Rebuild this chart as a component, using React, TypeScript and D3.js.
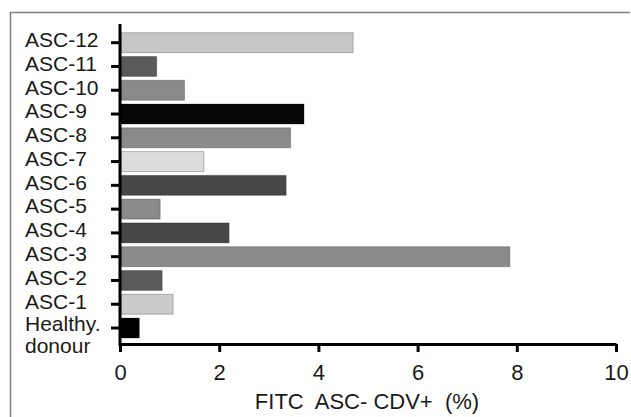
import React, { useRef, useEffect } from "react";
import { select, scaleBand, scaleLinear, axisBottom, axisLeft } from "d3";

// categories top to bottom, as in the figure
const categories = [
  "ASC-12", "ASC-11", "ASC-10", "ASC-9", "ASC-8", "ASC-7", "ASC-6",
  "ASC-5", "ASC-4", "ASC-3", "ASC-2", "ASC-1", "Healthy donour",
];
const values = [4.7, 0.74, 1.3, 3.71, 3.44, 1.69, 3.35, 0.81, 2.2, 7.86, 0.85, 1.07, 0.39];
const barColors = [
  "#c6c6c6", "#5a5a5a", "#8a8a8a", "#060606", "#8a8a8a", "#dcdcdc", "#474747",
  "#8a8a8a", "#474747", "#8a8a8a", "#5a5a5a", "#cbcbcb", "#000000",
];
const xTicks = [0, 2, 4, 6, 8, 10];
const xTitle = "FITC  ASC- CDV+  (%)";

const W = 631;
const H = 417;
const FONT = "'Liberation Sans', Arial, sans-serif";

function BarChart() {
  const svgRef = useRef(null);

  useEffect(() => {
    const svg = select(svgRef.current);
    svg.selectAll("*").remove();

    const data = categories.map((c, i) => ({ name: c, value: values[i], color: barColors[i] }));

    const x = scaleLinear().domain([0, 10]).range([120, 616]);
    const y = scaleBand()
      .domain(categories)
      .range([30.8, 339.9])
      .paddingInner(0.16)
      .paddingOuter(0.08);

    // frame (top + left only)
    svg.append("path")
      .attr("d", `M10.5,417 V12.5 H630`)
      .attr("fill", "none")
      .attr("stroke", "#808080")
      .attr("stroke-width", 1.5);

    // bars
    svg.selectAll(".bar")
      .data(data)
      .join("rect")
      .attr("class", "bar")
      .attr("x", x(0) + 1)
      .attr("y", d => y(d.name))
      .attr("width", d => x(d.value) - x(0) - 1)
      .attr("height", y.bandwidth())
      .attr("fill", d => d.color)
      .attr("stroke", "rgba(0,0,0,0.25)")
      .attr("stroke-width", 1);

    // x axis
    const gx = svg.append("g")
      .attr("transform", `translate(0,344)`)
      .call(axisBottom(x).tickValues(xTicks).tickSize(8).tickPadding(12).tickSizeOuter(0));
    gx.select(".domain").attr("stroke-width", 3).attr("stroke", "#000");
    gx.selectAll(".tick line").attr("stroke-width", 3).attr("stroke", "#000");
    gx.selectAll(".tick text")
      .attr("font-family", FONT)
      .attr("font-size", 22)
      .attr("fill", "#1a1a1a");

    // y axis
    const gy = svg.append("g")
      .attr("transform", `translate(120,0)`)
      .call(axisLeft(y).tickSize(9).tickSizeOuter(0).tickFormat(() => ""));
    gy.select(".domain").remove();
    gy.selectAll(".tick line").attr("stroke-width", 3).attr("stroke", "#000");
    svg.append("line")
      .attr("x1", 120).attr("x2", 120)
      .attr("y1", 24).attr("y2", 346)
      .attr("stroke", "#000")
      .attr("stroke-width", 3);

    // y labels, left-aligned like the original
    const labels = svg.append("g")
      .attr("font-family", FONT)
      .attr("font-size", 21)
      .attr("fill", "#1a1a1a");
    data.forEach(d => {
      const cy = y(d.name) + y.bandwidth() / 2;
      if (d.name === "Healthy donour") {
        labels.append("text").attr("x", 25).attr("y", cy - 4).attr("dy", "0.35em").text("Healthy.");
        labels.append("text").attr("x", 25).attr("y", cy + 18).attr("dy", "0.35em").text("donour");
      } else {
        labels.append("text").attr("x", 25).attr("y", cy - 3).attr("dy", "0.35em").text(d.name);
      }
    });

    // x title
    svg.append("text")
      .attr("x", 367)
      .attr("y", 409)
      .attr("text-anchor", "middle")
      .attr("font-family", FONT)
      .attr("font-size", 22)
      .attr("fill", "#1a1a1a")
      .style("white-space", "pre")
      .text(xTitle);
  }, []);

  return <svg ref={svgRef} width={W} height={H} style={{ display: "block" }} />;
}

export default function App() {
  useEffect(() => {
    document.body.style.margin = "0";
    document.body.style.background = "#fff";
  }, []);
  return <BarChart />;
}
